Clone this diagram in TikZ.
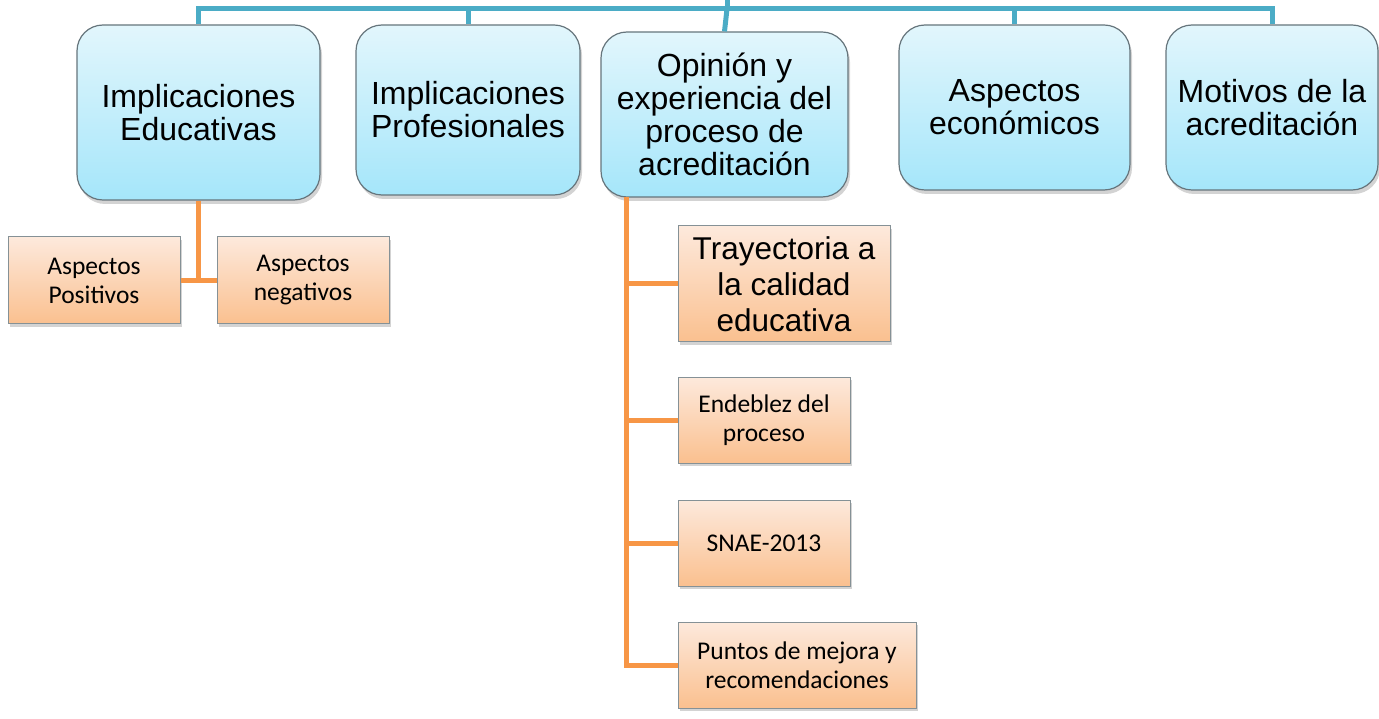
\documentclass[tikz,border=0pt]{standalone}
\usepackage{fontspec}
\setmainfont{Liberation Sans}
\newfontfamily\calfont{Carlito}
\usetikzlibrary{shadows}
\definecolor{blueline}{HTML}{4BACC6}
\definecolor{orangeline}{HTML}{F79646}
\definecolor{bluetop}{HTML}{E2F6FC}
\definecolor{bluebot}{HTML}{A5E6FA}
\definecolor{orgtop}{HTML}{FDE9DC}
\definecolor{orgbot}{HTML}{FAC08F}
\definecolor{boxedge}{HTML}{66757C}
\tikzset{
  bluebox/.style={draw=boxedge, line width=1.2pt, rounded corners=26pt, top color=bluetop, bottom color=bluebot,
    drop shadow={opacity=0.35, shadow xshift=2pt, shadow yshift=-4pt},
    align=center, inner sep=0pt, font=\fontsize{32}{33}\selectfont},
  orangebox/.style={draw=boxedge!80, line width=1pt, top color=orgtop, bottom color=orgbot,
    drop shadow={opacity=0.35, shadow xshift=2pt, shadow yshift=-3pt},
    align=center, inner sep=0pt, font=\calfont\fontsize{25.5}{29}\selectfont},
  bigorange/.style={orangebox, font=\fontsize{31.5}{36}\selectfont},
  blink/.style={draw=blueline, line width=5pt},
  olink/.style={draw=orangeline, line width=5pt},
}
\begin{document}
\begin{tikzpicture}[x=1pt,y=-1pt]
\useasboundingbox (0,0) rectangle (1379,719);
% top level boxes
\node[bluebox, minimum width=243pt, minimum height=175pt] (b1) at (198.5,112.5) {Implicaciones\\Educativas};
\node[bluebox, minimum width=224pt, minimum height=170pt] (b2) at (468,110) {Implicaciones\\Profesionales};
\node[bluebox, minimum width=247pt, minimum height=165pt] (b3) at (724.5,114.5) {Opinión y\\experiencia del\\proceso de\\acreditación};
\node[bluebox, minimum width=231pt, minimum height=165pt] (b4) at (1014.5,107.5) {Aspectos\\económicos};
\node[bluebox, minimum width=212pt, minimum height=165pt] (b5) at (1272,107.5) {Motivos de la\\acreditación};
% sub boxes
\node[orangebox, minimum width=172pt, minimum height=87pt] (ap) at (94,280.5) {Aspectos\\Positivos};
\node[orangebox, minimum width=172pt, minimum height=87pt] (an) at (303,280.5) {Aspectos\\negativos};
\node[bigorange, minimum width=212pt, minimum height=116pt] (tr) at (784,284) {Trayectoria a\\la calidad\\educativa};
\node[orangebox, minimum width=172pt, minimum height=86pt] (en) at (764,420) {Endeblez del\\proceso};
\node[orangebox, minimum width=172pt, minimum height=86pt] (sn) at (764,543) {SNAE-2013};
\node[orangebox, minimum width=238pt, minimum height=86pt] (pu) at (797,665) {Puntos de mejora y\\recomendaciones};
% blue connectors
\coordinate (root) at (727,-5);
\coordinate (bus) at (727,9);
\draw[blink] (root) -- (bus);
\draw[blink, line cap=rect] (b1.north |- bus) -- (b5.north |- bus);
\draw[blink] (b1.north |- bus) -- (b1.north);
\draw[blink] (b2.north |- bus) -- (b2.north);
\draw[blink] (bus) -- (b3.north);
\draw[blink] (b4.north |- bus) -- (b4.north);
\draw[blink] (b5.north |- bus) -- (b5.north);
% orange connectors
\coordinate (j1) at (b1.south |- ap.east);
\draw[olink] (b1.south) -- (j1);
\draw[olink] (ap.east) -- (an.west);
\coordinate (sp) at (626,197);
\draw[olink, line join=miter] (sp) |- (pu.west);
\draw[olink] (sp |- tr.west) -- (tr.west);
\draw[olink] (sp |- en.west) -- (en.west);
\draw[olink] (sp |- sn.west) -- (sn.west);
\end{tikzpicture}
\end{document}
